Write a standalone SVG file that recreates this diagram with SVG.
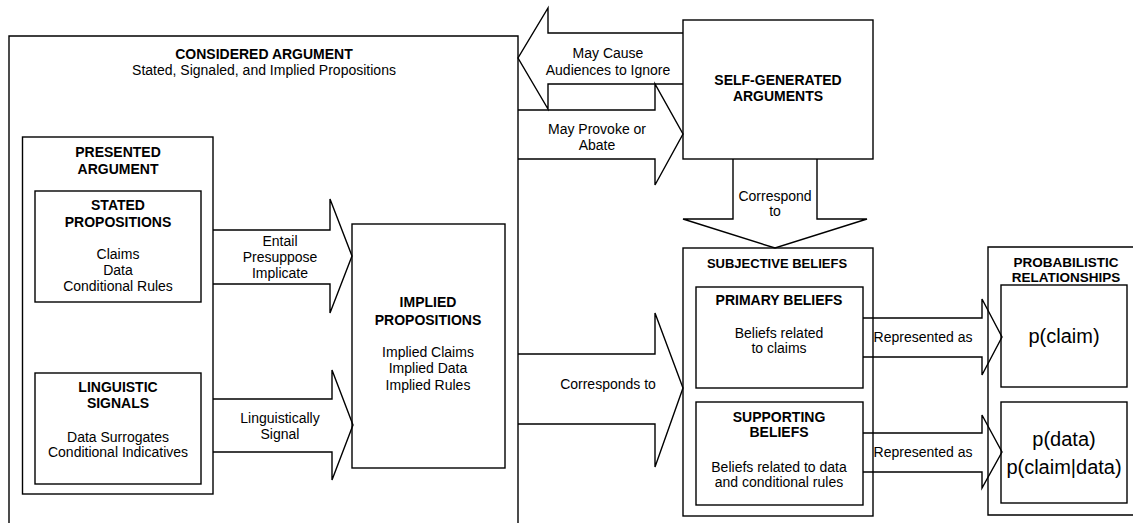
<svg xmlns="http://www.w3.org/2000/svg" width="1133" height="523" viewBox="0 0 1133 523">
<style>
.b{fill:none;stroke:#000;stroke-width:1.4}
.a{fill:none;stroke:#000;stroke-width:1.4;stroke-linejoin:miter}
text{font-family:"Liberation Sans",Arial,sans-serif;fill:#000;text-anchor:middle}
.h{font-weight:bold;font-size:14px}
.h13{font-weight:bold;font-size:13px}
.t{font-size:14px}
.p{font-size:20px}
</style>
<rect width="1133" height="523" fill="#fff"/>
<g id="considered">
<path class="b" d="M9,530 V36 H518 V530"/>
<text class="h" x="264" y="59">CONSIDERED ARGUMENT</text>
<text class="t" x="264" y="75">Stated, Signaled, and Implied Propositions</text>
</g>
<g id="presented">
<rect class="b" x="22.5" y="137" width="190.5" height="357"/>
<text class="h" x="118" y="157">PRESENTED</text>
<text class="h" x="118" y="174">ARGUMENT</text>
</g>
<g id="stated">
<rect class="b" x="35" y="191" width="166" height="111"/>
<text class="h" x="118" y="210">STATED</text>
<text class="h" x="118" y="227">PROPOSITIONS</text>
<text class="t" x="118" y="259">Claims</text>
<text class="t" x="118" y="275">Data</text>
<text class="t" x="118" y="291">Conditional Rules</text>
</g>
<g id="linguistic">
<rect class="b" x="35" y="373" width="166" height="111"/>
<text class="h" x="118" y="392">LINGUISTIC</text>
<text class="h" x="118" y="408">SIGNALS</text>
<text class="t" x="118" y="442">Data Surrogates</text>
<text class="t" x="118" y="457">Conditional Indicatives</text>
</g>
<g id="implied">
<rect class="b" x="352" y="224" width="153" height="244"/>
<text class="h" x="428" y="307">IMPLIED</text>
<text class="h" x="428" y="325">PROPOSITIONS</text>
<text class="t" x="428" y="357">Implied Claims</text>
<text class="t" x="428" y="373">Implied Data</text>
<text class="t" x="428" y="390">Implied Rules</text>
</g>
<g id="selfgen">
<rect class="b" x="683" y="20" width="190" height="139"/>
<text class="h" x="778" y="85">SELF-GENERATED</text>
<text class="h" x="778" y="101">ARGUMENTS</text>
</g>
<g id="subjective">
<rect class="b" x="683" y="248" width="190" height="268"/>
<text class="h13" x="777" y="268">SUBJECTIVE BELIEFS</text>
</g>
<g id="primary">
<rect class="b" x="696" y="287" width="167" height="101"/>
<text class="h" x="779" y="305">PRIMARY BELIEFS</text>
<text class="t" x="779" y="338">Beliefs related</text>
<text class="t" x="779" y="353">to claims</text>
</g>
<g id="supporting">
<rect class="b" x="696" y="402" width="167" height="103"/>
<text class="h" x="779" y="422">SUPPORTING</text>
<text class="h" x="779" y="437">BELIEFS</text>
<text class="t" x="779" y="472">Beliefs related to data</text>
<text class="t" x="779" y="487">and conditional rules</text>
</g>
<g id="probabilistic">
<path class="b" d="M1140,247 H988 V515 H1140"/>
<text class="h13" x="1066" y="267" style="font-size:13.5px">PROBABILISTIC</text>
<text class="h13" x="1066" y="282" style="font-size:13.5px">RELATIONSHIPS</text>
</g>
<g id="pclaim">
<rect class="b" x="1001" y="285" width="126" height="102"/>
<text class="p" x="1064" y="343">p(claim)</text>
</g>
<g id="pdata">
<rect class="b" x="1001" y="402" width="126" height="101"/>
<text class="p" x="1064" y="446">p(data)</text>
<text class="p" x="1064" y="474">p(claim|data)</text>
</g>
<g id="connectors">
<path class="a" d="M213,230 H330 V199 L352,256 L330,313 V284 H213"/>
<text class="t" x="280" y="246">Entail</text>
<text class="t" x="280" y="262">Presuppose</text>
<text class="t" x="280" y="278">Implicate</text>
<path class="a" d="M213,399 H332 V370 L353,425 L332,480 V452 H213"/>
<text class="t" x="280" y="423">Linguistically</text>
<text class="t" x="280" y="439">Signal</text>
<path class="a" d="M518,354 H655 V313 L683,388 L655,467 V424 H518"/>
<text class="t" x="608" y="389">Corresponds to</text>
<path class="a" d="M683,33 H548 V8 L518,58 L548,109 V84 H683"/>
<text class="t" x="608" y="58">May Cause</text>
<text class="t" x="608" y="75">Audiences to Ignore</text>
<path class="a" d="M518,110 H655 V84 L683,134 L655,185 V159 H518"/>
<text class="t" x="597" y="134">May Provoke or</text>
<text class="t" x="597" y="150">Abate</text>
<path class="a" d="M733,159 V219 H683 L775,248 L867,219 H817 V159"/>
<text class="t" x="775" y="201">Correspond</text>
<text class="t" x="775" y="216">to</text>
<path class="a" d="M863,318 H982 V299 L1002,337 L982,375 V357 H863"/>
<text class="t" x="923" y="342">Represented as</text>
<path class="a" d="M863,433 H982 V415 L1002,452 L982,488 V472 H863"/>
<text class="t" x="923" y="457">Represented as</text>
</g>
</svg>
